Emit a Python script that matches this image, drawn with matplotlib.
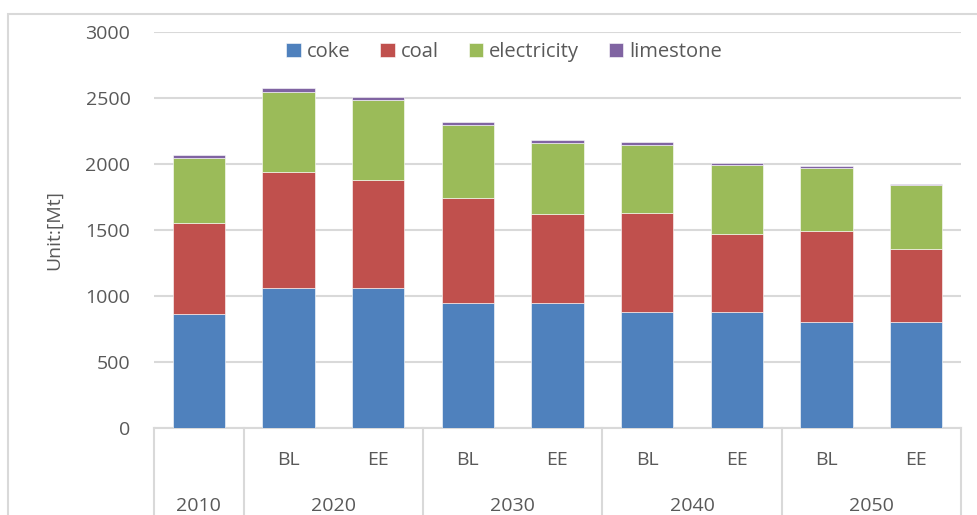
import numpy as np
import matplotlib.pyplot as plt
from matplotlib.patches import Rectangle

plt.rcParams['font.family'] = ['Open Sans', 'DejaVu Sans']

years = ['2010', '2020', '2030', '2040', '2050']
scenarios = ['', 'BL', 'EE', 'BL', 'EE', 'BL', 'EE', 'BL', 'EE']
coke = [865, 1064, 1064, 948, 948, 880, 880, 804, 804]
coal = [690, 875, 814, 793, 672, 748, 588, 687, 551]
electricity = [490, 609, 604, 552, 541, 515, 521, 478, 483]
limestone = [20, 25, 23, 22, 18, 21, 15, 18, 13]

series = [('coke', coke, '#4F81BD'), ('coal', coal, '#C0504D'),
          ('electricity', electricity, '#9BBB59'), ('limestone', limestone, '#8064A2')]

txt = '#595959'
grid = '#d9d9d9'
fs = 14

fig = plt.figure(figsize=(9.78, 5.15), dpi=100)
ax = fig.add_axes([154/978, 1-428/515, (961-154)/978, (428-32)/515])

x = np.arange(len(scenarios))
bottom = np.zeros(len(x))
for name, vals, col in series:
    ax.bar(x, vals, 0.58, bottom=bottom, color=col, label=name,
           edgecolor='white', linewidth=0.4, zorder=3)
    bottom += np.array(vals)

ax.set_xlim(-0.5, len(x) - 0.5)
ax.set_ylim(0, 3000)
ax.set_yticks(range(0, 3001, 500))
ax.tick_params(axis='y', length=0, labelsize=fs, labelcolor=txt, pad=17)
ax.set_xticks([])
ax.grid(axis='y', color=grid, linewidth=1.5, zorder=0)
for s in ['top', 'right', 'left']:
    ax.spines[s].set_visible(False)
ax.spines['bottom'].set_color(grid)
ax.spines['bottom'].set_linewidth(1.5)
ax.set_ylabel('Unit:[Mt]', fontsize=fs, color=txt, labelpad=16)

# two-level category axis
tr = ax.get_xaxis_transform()
for bx in [-0.5, 0.5, 2.5, 4.5, 6.5, 8.5]:
    ax.plot([bx, bx], [0, -0.3], transform=tr, color=grid, lw=1.5, clip_on=False)
for i, s in enumerate(scenarios):
    if s:
        ax.text(i, -0.082, s, transform=tr, ha='center', va='center', fontsize=fs, color=txt)
year_pos = [0, 1.5, 3.5, 5.5, 7.5]
for p, yr in zip(year_pos, years):
    ax.text(p, -0.197, yr, transform=tr, ha='center', va='center', fontsize=fs, color=txt)

ax.legend(loc='center', bbox_to_anchor=(0.434, 0.949), ncol=4, frameon=False,
          fontsize=14.5, labelcolor=txt, handlelength=0.7, handleheight=0.7,
          handletextpad=0.3, columnspacing=1.5)

# outer chart frame
fig.patches.append(Rectangle((8/978, -0.1), 1.2, 1.1 - 14/515, transform=fig.transFigure,
                             fill=False, edgecolor=grid, lw=1.5))

fig.savefig('out.png', dpi=100)
